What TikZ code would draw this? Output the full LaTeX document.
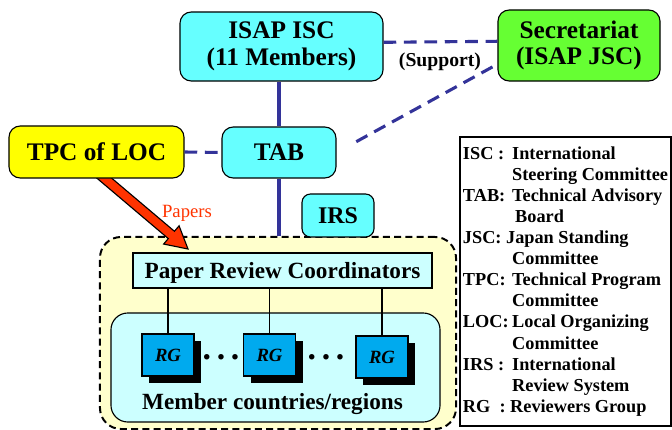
\documentclass[tikz,border=0pt]{standalone}
\usepackage{fontspec}
\setmainfont{Liberation Serif}
\usetikzlibrary{calc,shadows}

\definecolor{cyanbox}{HTML}{66FFFF}
\definecolor{greenbox}{HTML}{66FF33}
\definecolor{yellowbox}{HTML}{FFFF00}
\definecolor{areayellow}{HTML}{FFFFCC}
\definecolor{palecyan}{HTML}{CCFFFF}
\definecolor{rgblue}{HTML}{00AAEE}
\definecolor{linkblue}{HTML}{333399}
\definecolor{paperred}{HTML}{FF3300}

\begin{document}
\begin{tikzpicture}[x=0.025cm, y=-0.025cm,
    unit/.style={draw, line width=0.8pt, rounded corners=8pt, inner sep=0pt, align=center,
      font=\fontsize{18}{19}\selectfont\bfseries},
    link/.style={linkblue, line width=2.2pt},
    dashlink/.style={link, dash pattern=on 9pt off 5.5pt},
    rgbox/.style={draw, line width=0.8pt, fill=rgblue, minimum width=1.3cm, minimum height=1.05cm,
      drop shadow={shadow xshift=5pt, shadow yshift=-5pt, opacity=1, fill=black},
      font=\fontsize{13.3}{14}\selectfont\bfseries\itshape},
    dotrow/.style={font=\fontsize{24}{24}\selectfont\bfseries},
    thinline/.style={line width=0.8pt}]
  \useasboundingbox (0,0) rectangle (672,429);

  % Review area
  \node[draw, line width=1.4pt, dash pattern=on 5pt off 3pt, fill=areayellow, rounded corners=15pt,
    minimum width=8.9cm, minimum height=4.8cm] (area) at (278,333) {};
  \node[draw, thinline, fill=palecyan, rounded corners=12pt,
    minimum width=8.225cm, minimum height=2.725cm] (members) at (275.5,367.5) {};
  \node[draw, thinline, fill=palecyan, minimum width=7.475cm, minimum height=0.875cm, inner sep=0pt,
    text depth=0pt, font=\fontsize{16.5}{17}\selectfont\bfseries] (prc) at (282.5,270.5) {Paper Review Coordinators};
  \node[rgbox] (rga) at (168,355) {RG};
  \node[rgbox] (rgb) at (269.5,355) {RG};
  \node[rgbox] (rgc) at (382,357) {RG};
  \node[dotrow] (dotsa) at (221,357) {.\hspace{4pt}.\hspace{4pt}.};
  \node[dotrow] (dotsb) at (326,357) {.\hspace{4pt}.\hspace{4pt}.};
  \node[anchor=base, font=\fontsize{16.5}{17}\selectfont\bfseries] (memtext) at (272.5,409) {Member countries/regions};

  \draw[thinline] (rga.north) -- (rga.north |- prc.south);
  \draw[thinline] (rgb.north) -- (rgb.north |- prc.south);
  \draw[thinline] (rgc.north) -- (rgc.north |- prc.south);

  % Papers arrow
  \coordinate (ptail) at (97,172);
  \coordinate (ptip) at (188,249);
  \coordinate (phead) at ($(ptip)!15.5pt!(ptail)$);
  \draw[thinline, fill=paperred, line join=miter]
    ($(ptail)!3.4pt!90:(ptip)$) -- ($(phead)!3.4pt!90:(ptip)$) -- ($(phead)!8.5pt!90:(ptip)$)
    -- (ptip) -- ($(phead)!8.5pt!-90:(ptip)$) -- ($(phead)!3.4pt!-90:(ptip)$)
    -- ($(ptail)!3.4pt!-90:(ptip)$) -- cycle;
  \node[text=paperred, font=\fontsize{13.3}{14}\selectfont] (paperlabel) at (187,213) {Papers};

  % Committees
  \node[unit, fill=cyanbox, minimum width=5.075cm, minimum height=1.725cm] (isc) at (281.5,46.5) {ISAP ISC\\(11 Members)};
  \node[unit, fill=greenbox, minimum width=4.05cm, minimum height=1.775cm] (sec) at (579,45.5) {Secretariat\\(ISAP JSC)};
  \node[unit, fill=cyanbox, minimum width=2.85cm, minimum height=1.275cm] (tab) at (279,152.5) {TAB};
  \node[unit, fill=yellowbox, minimum width=4.375cm, minimum height=1.3cm] (tpc) at (96.5,152) {TPC of LOC};
  \node[unit, fill=cyanbox, minimum width=1.8cm, minimum height=1.075cm, rounded corners=6pt,
    font=\fontsize{17}{18}\selectfont\bfseries] (irs) at (338,215.5) {IRS};

  % Links
  \draw[dashlink] ([yshift=3pt]isc.east) -- ([yshift=3pt]sec.west);
  \draw[dashlink, shorten <=4pt, shorten >=10.5pt] ([yshift=-13.3pt]sec.west) -- (tab.east);
  \draw[dashlink] (tpc.east) -- (tab.west);
  \draw[link] (tab.north |- isc.south) -- (tab.north);
  \draw[link] (tab.south) -- (tab.south |- area.north);
  \node[font=\fontsize{14}{15}\selectfont\bfseries] (support) at (440,62) {(Support)};

  % Legend
  \node[draw, thinline, minimum width=5.275cm, minimum height=7.225cm, inner sep=0pt,
    font=\fontsize{13}{15}\selectfont\bfseries] (legend) at (565.5,281.5) {%
    \begin{tabular}{@{}p{35pt}@{}l@{}}
      ISC : & International\\
      & Steering Committee\\
      TAB: & Technical Advisory\\
      & \,Board\\
      \multicolumn{2}{@{}l@{}}{JSC: Japan Standing}\\
      & Committee\\
      TPC: & Technical Program\\
      & Committee\\
      LOC: & Local Organizing\\
      & Committee\\
      IRS : & International\\
      & Review System\\
      \multicolumn{2}{@{}l@{}}{RG\ \ : Reviewers Group}
    \end{tabular}};
\end{tikzpicture}
\end{document}
